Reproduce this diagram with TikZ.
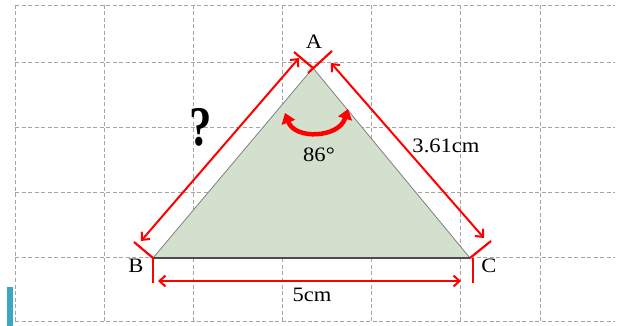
\documentclass[tikz,border=0pt]{standalone}
\usepackage{fontspec}
\setmainfont{Liberation Serif}
\usetikzlibrary{arrows.meta}
\definecolor{dimred}{RGB}{255,0,0}
\definecolor{trifill}{RGB}{210,224,205}
\definecolor{gridgray}{RGB}{165,165,165}
\definecolor{barteal}{RGB}{59,167,192}
\begin{document}
\begin{tikzpicture}[x=1pt,y=-1pt,
  gridline/.style={gridgray,line width=0.8pt,dash pattern=on 4pt off 2.5pt},
  tick/.style={dimred,line width=2.2pt},
  dim/.style={dimred,line width=2pt,{Straight Barb[length=6pt,width=11pt]}-{Straight Barb[length=6pt,width=11pt]}},
  angarrow/.style={dimred,line width=4.5pt,{Triangle[length=10pt,width=14pt]}-{Triangle[length=10pt,width=14pt]}},
  lbl/.style={font=\fontsize{20.5}{24}\selectfont,xscale=1.1,inner sep=0pt}]
  \useasboundingbox (0,0) rectangle (619,326);
  % grid
  \foreach \x in {15,104.5,193,282,371,460,540} \draw[gridline] (\x,5) -- (\x,321);
  \foreach \y in {5,62,127,192,257,321} \draw[gridline] (15,\y) -- (615,\y);
  \fill[barteal] (7,287) rectangle (13,326);
  % triangle
  \coordinate (A) at (313,68);
  \coordinate (B) at (153,258);
  \coordinate (C) at (470,258);
  \fill[trifill] (A) -- (B) -- (C) -- cycle;
  \draw[gray,line width=0.8pt] (B) -- (A) -- (C);
  \draw[black!70,line width=1.2pt] (B) -- (C);
  % ticks
  \coordinate (tA1) at (294,52);
  \coordinate (tA2) at (308,73);
  \coordinate (tA3) at (332,51);
  \coordinate (tB1) at (134,242);
  \coordinate (tB2) at (153,283);
  \coordinate (tC1) at (491,241);
  \coordinate (tC0) at (473,258);
  \coordinate (tC2) at (473,283);
  \draw[tick] (A) -- (tA1);
  \draw[tick] (tA2) -- (tA3);
  \draw[tick] (B) -- (tB1);
  \draw[tick] (B) -- (tB2);
  \draw[tick] (C) -- (tC1);
  \draw[tick] (tC0) -- (tC2);
  % dimension arrows
  \coordinate (dAB1) at (299,58);
  \coordinate (dAB2) at (141,241);
  \coordinate (dAC1) at (331,63);
  \coordinate (dAC2) at (484,238);
  \coordinate (dBC1) at (158,281);
  \coordinate (dBC2) at (461,281);
  \draw[dim] (dAB1) -- (dAB2);
  \draw[dim] (dAC1) -- (dAC2);
  \draw[dim] (dBC1) -- (dBC2);
  % angle
  \coordinate (ang1) at (285,113);
  \coordinate (ang2) at (348,109);
  \draw[angarrow] (ang1) .. controls (295,140) and (339,138) .. (ang2);
  % labels
  \node[lbl] (labA) at (314,42) {A};
  \node[lbl] (labB) at (136,266) {B};
  \node[lbl] (labC) at (489,266) {C};
  \node[lbl] (labAC) at (446,146) {3.61cm};
  \node[lbl] (labAng) at (319,155) {86°};
  \node[lbl] (labBC) at (312,295) {5cm};
  \node[font=\fontsize{56}{60}\selectfont\bfseries,xscale=0.8,inner sep=0pt] (qm) at (201,127) {?};
\end{tikzpicture}
\end{document}
